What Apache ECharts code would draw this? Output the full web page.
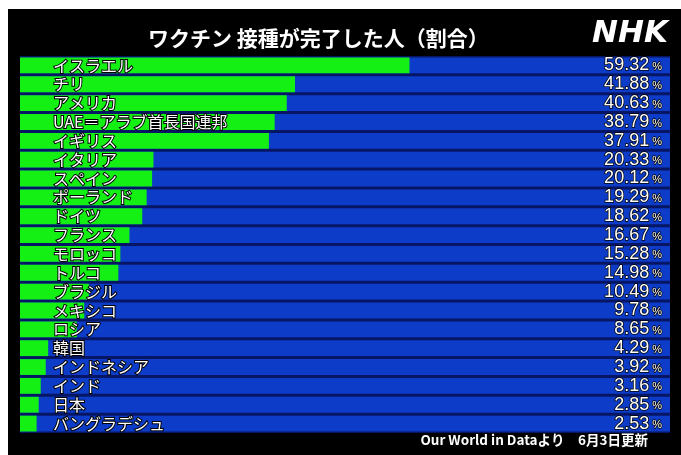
<!DOCTYPE html>
<html><head><meta charset="utf-8">
<script src="https://cdn.jsdelivr.net/npm/echarts@6/dist/echarts.min.js"></script>
<style>
html,body{margin:0;padding:0;background:#fff;}
#wrap{position:absolute;left:0;top:0;width:681px;height:455px;background:#fff;}
#c{position:absolute;left:8px;top:9px;width:673px;height:446px;}
</style>
</head><body><div id="wrap"><div id="c"></div></div>
<script>
const countries = ['イスラエル','チリ','アメリカ','UAE＝アラブ首長国連邦','イギリス','イタリア','スペイン','ポーランド','ドイツ','フランス','モロッコ','トルコ','ブラジル','メキシコ','ロシア','韓国','インドネシア','インド','日本','バングラデシュ'];
const values = [59.32,41.88,40.63,38.79,37.91,20.33,20.12,19.29,18.62,16.67,15.28,14.98,10.49,9.78,8.65,4.29,3.92,3.16,2.85,2.53];
const valueLabels = values.map(v => v.toFixed(2));

const chart = echarts.init(document.getElementById('c'));
chart.setOption({
  backgroundColor: '#000',
  animation: false,
  title: [
    {text: 'ワクチン 接種が完了した人（割合）', left: 135, top: 14,
     textStyle: {color: '#fff', fontSize: 21, fontWeight: 'bold', fontFamily: 'Noto Sans CJK JP'}},
    {text: 'NHK', right: 8, top: 4,
     textStyle: {color: '#fff', fontSize: 31, fontWeight: 900, fontStyle: 'italic', fontFamily: 'DejaVu Sans'}},
    {text: 'Our World in Dataより　6月3日更新', right: 28, bottom: 3,
     textStyle: {color: '#fff', fontSize: 13.5, fontWeight: 'bold', fontFamily: 'Noto Sans CJK JP'}}
  ],
  grid: {left: 12, right: 11, top: 47, bottom: 22, show: true, backgroundColor: '#061664', borderWidth: 0},
  xAxis: {type: 'value', min: 0, max: 99, show: false},
  yAxis: [
    {type: 'category', data: countries, inverse: true, z: 10,
     axisLine: {show: false}, axisTick: {show: false}, splitLine: {show: false},
     axisLabel: {inside: true, interval: 0, hideOverlap: false, margin: 33, color: '#fff', fontSize: 16, fontFamily: 'Noto Sans CJK JP',
                 textBorderColor: '#000', textBorderWidth: 2}},
    {type: 'category', data: valueLabels, inverse: true, position: 'right', z: 10,
     axisLine: {show: false}, axisTick: {show: false}, splitLine: {show: false},
     axisLabel: {inside: true, interval: 0, hideOverlap: false, margin: 8, color: '#fff',
                 formatter: v => '{n|' + v + '}{p| %}',
                 rich: {
                   n: {fontSize: 18, color: '#fff', fontFamily: 'Liberation Sans', textBorderColor: '#000', textBorderWidth: 1.5},
                   p: {fontSize: 11, color: '#fff', fontFamily: 'Liberation Sans', textBorderColor: '#000', textBorderWidth: 1.5, padding: [3, 0, 0, 0]}
                 }}}
  ],
  series: [{
    type: 'bar', data: values, yAxisIndex: 0, barCategoryGap: '16%',
    itemStyle: {color: '#14f014'},
    showBackground: true, backgroundStyle: {color: '#0c3cc8'}
  }]
});
</script>
</body></html>
